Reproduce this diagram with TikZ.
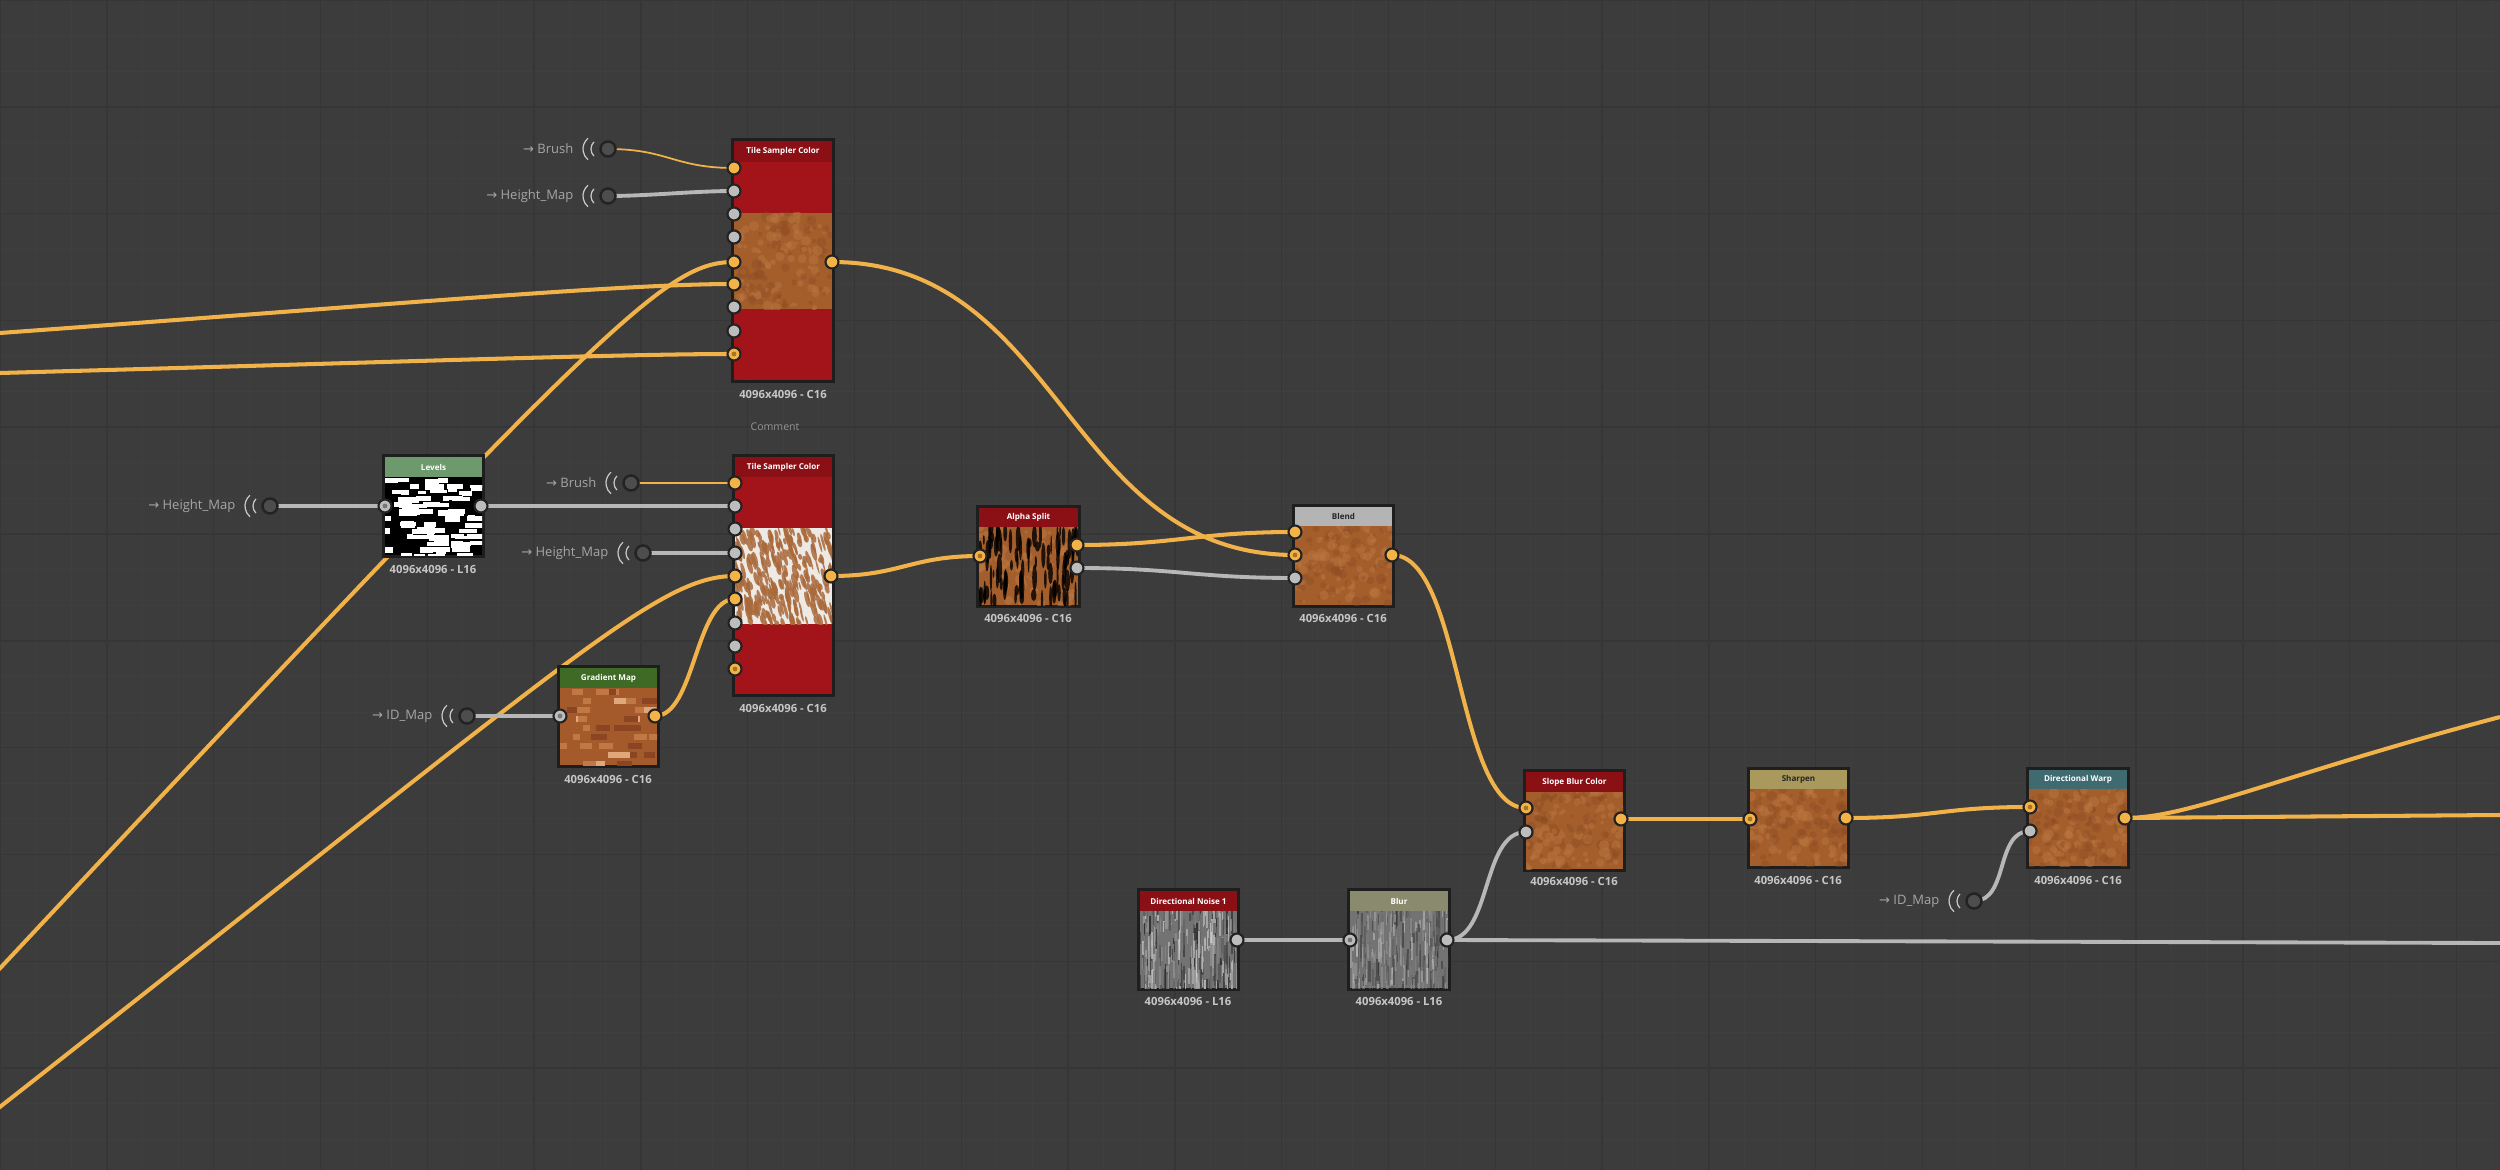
\documentclass[tikz,border=0pt]{standalone}
\usepackage{fontspec}
\setmainfont{Open Sans}
\newfontfamily\arrowfont{DejaVu Sans}
\pgfdeclarelayer{back}\pgfdeclarelayer{wire}
\pgfsetlayers{back,wire,main}
\definecolor{bgc}{HTML}{3C3C3C}
\definecolor{gridd}{HTML}{363636}
\definecolor{gridl}{HTML}{3F3F3F}
\definecolor{framec}{HTML}{1E1E1E}
\definecolor{redb}{HTML}{A3131A}
\definecolor{redh}{HTML}{8B1016}
\definecolor{lvlh}{HTML}{6C9A6C}
\definecolor{gmh}{HTML}{3F6A25}
\definecolor{blendh}{HTML}{B4B4B4}
\definecolor{sharph}{HTML}{A9995C}
\definecolor{dwh}{HTML}{3E6A70}
\definecolor{blurh}{HTML}{8A8A6F}
\definecolor{wireor}{HTML}{F2B24A}
\definecolor{wiregr}{HTML}{B7B7B7}
\definecolor{sockor}{HTML}{F4B347}
\definecolor{sockgr}{HTML}{BDBDBD}
\definecolor{sockrim}{HTML}{232323}
\definecolor{dotor}{HTML}{A8741F}
\definecolor{dotgr}{HTML}{777777}
\definecolor{gincol}{HTML}{4D4D4D}
\definecolor{arcc}{HTML}{C8C8C8}
\definecolor{labc}{HTML}{C6C6C6}
\definecolor{intxt}{HTML}{A6A6A6}
\definecolor{tbrown}{HTML}{A35E2C}
\definecolor{tbrownl}{HTML}{BA7640}
\definecolor{tbrownd}{HTML}{8C4B22}
\definecolor{furwhite}{HTML}{EDE9E4}
\definecolor{furbrown}{HTML}{A96A3B}
\definecolor{gmbase}{HTML}{A55A2B}
\definecolor{gmdark}{HTML}{8C4522}
\definecolor{gmlight}{HTML}{C07844}
\definecolor{gmpale}{HTML}{E0A77A}
\tikzset{
  sdframe/.style={fill=framec, draw=none, inner sep=0pt, outer sep=0pt, anchor=north west},
  osock/.style={circle, fill=sockor, draw=sockrim, line width=0.6pt, minimum size=0.13cm, inner sep=0pt},
  gsock/.style={circle, fill=sockgr, draw=sockrim, line width=0.6pt, minimum size=0.13cm, inner sep=0pt},
  odot/.style={osock, path picture={\fill[dotor] (path picture bounding box.center) circle[radius=0.024cm];}},
  gdot/.style={gsock, path picture={\fill[dotgr] (path picture bounding box.center) circle[radius=0.024cm];}},
  ginput/.style={circle, fill=gincol, draw=sockrim, line width=0.7pt, minimum size=0.15cm, inner sep=0pt},
  owire/.style={draw=wireor, line width=1.15pt},
  gwire/.style={draw=wiregr, line width=1.1pt},
  thinwire/.style={draw=wireor, line width=0.5pt},
  sdtitle/.style={font=\bfseries\fontsize{2.3}{2.6}\selectfont, inner sep=0pt},
  sizelab/.style={font=\bfseries\fontsize{3.2}{3.6}\selectfont, text=labc, inner sep=0pt},
  inlab/.style={font=\fontsize{3.7}{4.2}\selectfont, text=intxt, inner sep=0pt, anchor=east},
  commentsty/.style={font=\fontsize{3}{3.4}\selectfont, text=intxt!90!black, inner sep=0pt},
  waves/.style={draw=arcc, line width=0.35pt},
}
% node box: name, x1, y1, x2, y2, header colour, header bottom, title, title colour
\newcommand\sdnode[9]{%
  \node[sdframe, minimum width={(#4-#2)*0.01cm}, minimum height={(#5-#3)*0.01cm}] (#1) at (#2,#3) {};
  \fill[#6] (#2+3,#3+3) rectangle (#4-3,#7);
  \node[sdtitle, text=#9] (#1-t) at ({(#2+#4)/2},{(#3+3+#7)/2}) {#8};}
\newcommand\sizelabel[3]{\node[sizelab] (#1) at (#2,#3) {4096x4096 - C16};}
\newcommand\sizelabelL[3]{\node[sizelab] (#1) at (#2,#3) {4096x4096 - L16};}
% graph input: name, x, y, text
\newcommand\graphin[4]{%
  \node[ginput] (#1) at (#2,#3) {};
  \draw[waves] (#2-11,#3) ++(130:0.14cm) arc[start angle=130, end angle=230, radius=0.14cm];
  \draw[waves] (#2-7,#3) ++(135:0.1cm) arc[start angle=135, end angle=225, radius=0.1cm];
  \node[inlab] (#1-t) at (#2-34,#3) {{\arrowfont →} #4};}
% textures
\newcommand\brownnoise[4]{%
  \begin{scope}
  \clip (#1,#2) rectangle (#3,#4);
  \fill[tbrown] (#1,#2) rectangle (#3,#4);
  \foreach \kk in {1,...,150}{%
    \pgfmathsetmacro\px{#1+rnd*(#3-#1)}%
    \pgfmathsetmacro\py{#2+rnd*(#4-#2)}%
    \pgfmathsetmacro\pr{1.5+rnd*4}%
    \pgfmathsetmacro\pc{rnd}%
    \ifdim\pc pt<0.5pt
      \fill[tbrownl, opacity=0.5] (\px,\py) circle[radius=\pr];
    \else
      \fill[tbrownd, opacity=0.4] (\px,\py) circle[radius=\pr];
    \fi}
  \end{scope}}
\newcommand\furtex[4]{%
  \begin{scope}
  \clip (#1,#2) rectangle (#3,#4);
  \fill[furwhite] (#1,#2) rectangle (#3,#4);
  \foreach \kk in {1,...,260}{%
    \pgfmathsetmacro\px{#1+rnd*(#3-#1)}%
    \pgfmathsetmacro\py{#2+rnd*(#4-#2)}%
    \pgfmathsetmacro\pa{0.8+rnd*2}%
    \pgfmathsetmacro\pb{3+rnd*6}%
    \fill[furbrown, opacity=0.85, rotate around={15:(\px,\py)}] (\px,\py) ellipse[x radius=\pa, y radius=\pb];}
  \end{scope}}
\newcommand\alphatex[4]{%
  \begin{scope}
  \clip (#1,#2) rectangle (#3,#4);
  \fill[tbrown] (#1,#2) rectangle (#3,#4);
  \foreach \kk in {1,...,60}{%
    \pgfmathsetmacro\px{#1+rnd*(#3-#1)}%
    \pgfmathsetmacro\py{#2+rnd*(#4-#2)}%
    \pgfmathsetmacro\pr{1.5+rnd*4}%
    \fill[tbrownl, opacity=0.6] (\px,\py) circle[radius=\pr];}
  \foreach \kk in {1,...,90}{%
    \pgfmathsetmacro\px{#1+rnd*(#3-#1)}%
    \pgfmathsetmacro\py{#2+rnd*(#4-#2)}%
    \pgfmathsetmacro\pa{0.7+rnd*2}%
    \pgfmathsetmacro\pb{4+rnd*11}%
    \fill[black, opacity=0.8] (\px,\py) ellipse[x radius=\pa, y radius=\pb];}
  \end{scope}}
\newcommand\levtex[4]{%
  \begin{scope}
  \clip (#1,#2) rectangle (#3,#4);
  \fill[black] (#1,#2) rectangle (#3,#4);
  \foreach \rr in {0,...,12}{%
    \foreach \jj in {1,...,6}{%
      \pgfmathsetmacro\px{#1-8+rnd*(#3-#1)}%
      \pgfmathsetmacro\pw{6+rnd*15}%
      \pgfmathsetmacro\py{#2+\rr*6.3+rnd*2}%
      \pgfmathsetmacro\ph{3.5+rnd*3.5}%
      \fill[white] (\px,\py) rectangle (\px+\pw,\py+\ph);}}
  \end{scope}}
\newcommand\gmtex[4]{%
  \begin{scope}
  \clip (#1,#2) rectangle (#3,#4);
  \fill[gmbase] (#1,#2) rectangle (#3,#4);
  \foreach \rr in {0,...,8}{%
    \foreach \jj in {1,...,5}{%
      \pgfmathsetmacro\px{#1-6+rnd*(#3-#1)}%
      \pgfmathsetmacro\pw{7+rnd*8}%
      \pgfmathsetmacro\py{#2+1+\rr*9}%
      \pgfmathsetmacro\pc{rnd}%
      \ifdim\pc pt<0.5pt
        \fill[gmdark] (\px,\py) rectangle (\px+\pw,\py+6);
      \else\ifdim\pc pt<0.85pt
        \fill[gmlight] (\px,\py) rectangle (\px+\pw,\py+6);
      \else
        \fill[gmpale] (\px,\py) rectangle (\px+\pw,\py+6);
      \fi\fi}}
  \end{scope}}
\newcommand\graytex[5]{%
  \begin{scope}
  \clip (#1,#2) rectangle (#3,#4);
  \fill[black!55!white] (#1,#2) rectangle (#3,#4);
  \foreach \kk in {1,...,320}{%
    \pgfmathsetmacro\px{#1+rnd*(#3-#1)}%
    \pgfmathsetmacro\pw{0.6+rnd*2}%
    \pgfmathsetmacro\py{#2-15+rnd*(#4-#2+15)}%
    \pgfmathsetmacro\ph{5+rnd*22}%
    \pgfmathtruncatemacro\pv{10+rnd*75}%
    \fill[white!\pv!black, opacity=#5] (\px,\py) rectangle (\px+\pw,\py+\ph);}
  \end{scope}}
\begin{document}
\begin{tikzpicture}[x=0.01cm, y=-0.01cm]
\pgfmathsetseed{7}
\useasboundingbox (0,0) rectangle (2500,1170);
\begin{pgfonlayer}{back}
  \fill[bgc] (0,0) rectangle (2500,1170);
  \foreach \gx in {0,35.6,...,2500} \draw[gridl, line width=0.25pt] (\gx,0) -- (\gx,1170);
  \foreach \gy in {0,35.6,...,1170} \draw[gridl, line width=0.25pt] (0,\gy) -- (2500,\gy);
  \foreach \gx in {0,106.8,...,2500} \draw[gridd, line width=0.4pt] (\gx,0) -- (\gx,1170);
  \foreach \gy in {0,106.8,...,1170} \draw[gridd, line width=0.4pt] (0,\gy) -- (2500,\gy);
\end{pgfonlayer}

% ---- Tile Sampler Color 1
\sdnode{tsc1}{731}{138}{835}{383}{redh}{162}{Tile Sampler Color}{white}
\fill[redb] (734,162) rectangle (832,380);
\brownnoise{734}{213}{832}{309}
\sizelabel{tsc1-l}{783}{394}
% ---- Tile Sampler Color 2
\sdnode{tsc2}{732}{454}{835}{697}{redh}{477}{Tile Sampler Color}{white}
\fill[redb] (735,477) rectangle (832,694);
\furtex{735}{528}{832}{624}
\sizelabel{tsc2-l}{783}{708}
\node[commentsty] (comment) at (775,427) {Comment};
% ---- Levels
\sdnode{lev}{382}{454}{485}{558}{lvlh}{477}{Levels}{white}
\levtex{385}{477}{482}{555}
\sizelabelL{lev-l}{433}{569}
% ---- Gradient Map
\sdnode{gm}{557}{665}{660}{768}{gmh}{688}{Gradient Map}{white}
\gmtex{560}{688}{657}{765}
\sizelabel{gm-l}{608}{779}
% ---- Alpha Split
\sdnode{as}{976}{505}{1081}{608}{redh}{527}{Alpha Split}{white}
\alphatex{979}{527}{1078}{605}
\sizelabel{as-l}{1028}{618}
% ---- Blend
\sdnode{bl}{1292}{504}{1395}{608}{blendh}{526}{Blend}{black!85}
\brownnoise{1295}{526}{1392}{605}
\sizelabel{bl-l}{1343}{618}
% ---- Slope Blur Color
\sdnode{sb}{1523}{769}{1626}{872}{redh}{792}{Slope Blur Color}{white}
\brownnoise{1526}{792}{1623}{869}
\sizelabel{sb-l}{1574}{881}
% ---- Sharpen
\sdnode{sh}{1747}{767}{1850}{869}{sharph}{789}{Sharpen}{black!85}
\brownnoise{1750}{789}{1847}{866}
\sizelabel{sh-l}{1798}{880}
% ---- Directional Warp
\sdnode{dw}{2026}{767}{2130}{869}{dwh}{789}{Directional Warp}{white}
\brownnoise{2029}{789}{2127}{866}
\sizelabel{dw-l}{2078}{880}
% ---- Directional Noise 1
\sdnode{dn}{1137}{888}{1240}{991}{redh}{911}{Directional Noise 1}{white}
\graytex{1140}{911}{1237}{988}{0.7}
\sizelabelL{dn-l}{1188}{1001}
% ---- Blur
\sdnode{bu}{1347}{888}{1451}{991}{blurh}{911}{Blur}{white}
\graytex{1350}{911}{1448}{988}{0.45}
\sizelabelL{bu-l}{1399}{1001}

% ---- graph inputs
\graphin{gBrushA}{608}{149}{Brush}
\graphin{gHMA}{608}{196}{Height\_Map}
\graphin{gHM0}{270}{506}{Height\_Map}
\graphin{gBrushB}{631}{483}{Brush}
\graphin{gHMB}{643}{553}{Height\_Map}
\graphin{gIDA}{467}{716}{ID\_Map}
\graphin{gIDB}{1974}{901}{ID\_Map}

% ---- sockets
\node[osock] (t1i1) at (734,168) {};
\node[gsock] (t1i2) at (734,191) {};
\node[gsock] (t1i3) at (734,214) {};
\node[gsock] (t1i4) at (734,237) {};
\node[osock] (t1i5) at (734,262) {};
\node[osock] (t1i6) at (734,284) {};
\node[gsock] (t1i7) at (734,307) {};
\node[gsock] (t1i8) at (734,331) {};
\node[odot]  (t1i9) at (734,354) {};
\node[osock] (t1o)  at (832,262) {};
\node[osock] (t2i1) at (735,483) {};
\node[gsock] (t2i2) at (735,506) {};
\node[gsock] (t2i3) at (735,529) {};
\node[gsock] (t2i4) at (735,553) {};
\node[osock] (t2i5) at (735,576) {};
\node[osock] (t2i6) at (735,599) {};
\node[gsock] (t2i7) at (735,623) {};
\node[gsock] (t2i8) at (735,646) {};
\node[odot]  (t2i9) at (735,669) {};
\node[osock] (t2o)  at (831,576) {};
\node[gdot]  (levi) at (385,506) {};
\node[gsock] (levo) at (481,506) {};
\node[gdot]  (gmi)  at (560,716) {};
\node[osock] (gmo)  at (655,716) {};
\node[odot]  (asi)  at (980,556) {};
\node[osock] (aso1) at (1077,545) {};
\node[gsock] (aso2) at (1077,568) {};
\node[osock] (bli1) at (1295,532) {};
\node[odot]  (bli2) at (1295,555) {};
\node[gsock] (bli3) at (1295,578) {};
\node[osock] (blo)  at (1392,555) {};
\node[odot]  (sbi1) at (1526,808) {};
\node[gsock] (sbi2) at (1526,832) {};
\node[osock] (sbo)  at (1621,819) {};
\node[odot]  (shi)  at (1750,819) {};
\node[osock] (sho)  at (1846,818) {};
\node[odot]  (dwi1) at (2030,807) {};
\node[gsock] (dwi2) at (2030,831) {};
\node[osock] (dwo)  at (2125,818) {};
\node[gsock] (dno)  at (1237,940) {};
\node[gdot]  (bui)  at (1350,940) {};
\node[gsock] (buo)  at (1447,940) {};

% free ends of connectors
\coordinate (L1) at (0,333);
\coordinate (L2) at (0,373);
\coordinate (L3) at (-200,1182);
\coordinate (L4) at (-200,1263);
\coordinate (R1) at (2500,815);
\coordinate (R2) at (2500,717);
\coordinate (R3) at (2500,943);

\begin{pgfonlayer}{wire}
\begin{scope}
\clip (0,0) rectangle (2500,1170);
% long inputs from the left
\draw[owire] (L1) .. controls +(400,-29) and +(-114,0) .. (t1i6.center);
\draw[owire] (L2) .. controls +(400,-11) and +(-114,0) .. (t1i9.center);
\draw[owire] (L3) .. controls +(800,-855) and +(-74,0) .. (t1i5.center);
\draw[owire] (L4) .. controls +(760,-591) and +(-85,0) .. (t2i5.center);
% graph inputs
\draw[thinwire] (gBrushA.center) .. controls +(60,0) and +(-60,0) .. (t1i1.center);
\draw[gwire] (gHMA.center) .. controls +(40,0) and +(-40,0) .. (t1i2.center);
\draw[gwire] (gHM0.center) -- (levi.center);
\draw[gwire] (levo.center) -- (t2i2.center);
\draw[thinwire] (gBrushB.center) -- (t2i1.center);
\draw[gwire] (gHMB.center) -- (t2i4.center);
\draw[gwire] (gIDA.center) -- (gmi.center);
\draw[owire] (gmo.center) .. controls +(40,0) and +(-40,0) .. (t2i6.center);
% main chain
\draw[owire] (t2o.center) .. controls +(70,0) and +(-70,0) .. (asi.center);
\draw[owire] (aso1.center) .. controls +(100,0) and +(-100,0) .. (bli1.center);
\draw[gwire] (aso2.center) .. controls +(100,0) and +(-100,0) .. (bli3.center);
\draw[owire] (t1o.center) .. controls +(230,0) and +(-230,0) .. (bli2.center);
\draw[owire] (blo.center) .. controls +(70,0) and +(-70,0) .. (sbi1.center);
\draw[gwire] (dno.center) -- (bui.center);
\draw[gwire] (buo.center) .. controls +(45,0) and +(-45,0) .. (sbi2.center);
\draw[gwire] (buo.center) -- (R3);
\draw[owire] (sbo.center) -- (shi.center);
\draw[owire] (sho.center) .. controls +(90,0) and +(-90,0) .. (dwi1.center);
\draw[gwire] (gIDB.center) .. controls +(35,0) and +(-35,0) .. (dwi2.center);
\draw[owire] (dwo.center) -- (R1);
\draw[owire] (dwo.center) .. controls +(65,0) and +(-220,58) .. (R2);
\end{scope}
\end{pgfonlayer}
\end{tikzpicture}
\end{document}
